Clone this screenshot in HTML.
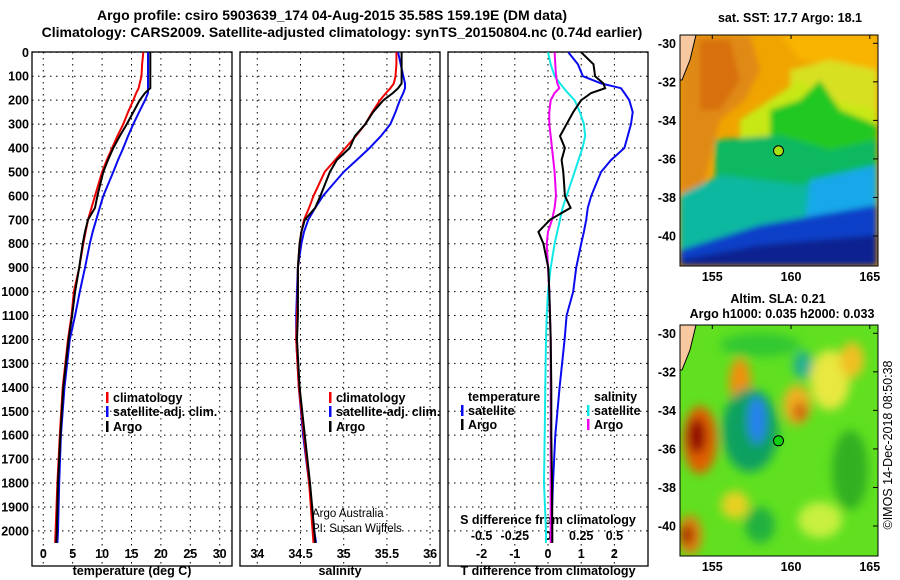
<!DOCTYPE html>
<html><head><meta charset="utf-8"><style>
body{margin:0;background:#fff}
svg{display:block;font-family:"Liberation Sans",sans-serif}
.t{font-weight:bold;font-size:12.5px}
.h{font-weight:bold;font-size:14px}
</style></head><body>
<svg id="s" width="900" height="580" viewBox="0 0 900 580">
<defs>
<filter id="bl" x="-30%" y="-30%" width="160%" height="160%"><feGaussianBlur stdDeviation="5"/></filter>
<filter id="bl2" x="-20%" y="-20%" width="140%" height="140%"><feGaussianBlur stdDeviation="3"/></filter>
<clipPath id="c1"><rect x="680" y="35" width="198" height="231"/></clipPath>
<clipPath id="c2"><rect x="680" y="325" width="198" height="231"/></clipPath>
</defs>
<text class="h" x="332" y="20" text-anchor="middle">Argo profile: csiro 5903639_174 04-Aug-2015 35.58S 159.19E (DM data)</text>
<text class="h" x="342" y="37" text-anchor="middle">Climatology: CARS2009. Satellite-adjusted climatology: synTS_20150804.nc (0.74d earlier)</text>
<g id="p"></g>
<!-- SST map -->
<g clip-path="url(#c1)">
<rect x="680" y="35" width="198" height="231" fill="#f0a400"/>
<g filter="url(#bl2)">
<polygon points="680,35 750,35 760,70 745,100 720,120 700,200 680,200" fill="#e08a18"/>
<polygon points="700,40 730,40 740,80 720,110 700,110" fill="#d87010"/>
<polygon points="780,35 877,35 877,70 800,60" fill="#f8b400"/>
<polygon points="790,70 830,60 877,70 877,120 820,120 790,100" fill="#d8e020"/>
<polygon points="740,120 770,100 800,80 830,100 877,110 877,130 800,140 740,140" fill="#c8e818"/>
<polygon points="770,110 800,100 820,80 840,110 877,125 877,160 790,175 770,140" fill="#20c820"/>
<polygon points="715,140 780,135 830,150 877,140 877,175 800,200 715,200" fill="#10b860"/>
<polygon points="680,195 720,175 800,185 877,170 877,266 680,266" fill="#10b8a0"/>
<polygon points="810,180 877,165 877,266 800,266" fill="#18a8e8"/>
<polygon points="760,225 877,205 877,266 680,266 680,250" fill="#1040c8"/>
<polygon points="760,245 877,235 877,266 680,266 680,260" fill="#082090"/>
</g>
<polygon points="680,35 696,35 690,60 682,80 680,80" fill="#f8c8a0" stroke="#000" stroke-width="1"/>
</g>
<rect x="680" y="35" width="198" height="231" fill="none" stroke="#000"/>
<circle cx="778.5" cy="150.8" r="5" fill="#a8e010" stroke="#000"/>
<!-- SLA map -->
<g clip-path="url(#c2)">
<rect x="680" y="325" width="198" height="231" fill="#60e020"/>
<g filter="url(#bl)">
<ellipse cx="760" cy="345" rx="40" ry="12" fill="#30c830"/>
<ellipse cx="740" cy="382" rx="11" ry="24" fill="#f09010"/>
<ellipse cx="700" cy="440" rx="17" ry="34" fill="#e06000"/>
<ellipse cx="697" cy="436" rx="9" ry="18" fill="#900000"/>
<ellipse cx="750" cy="430" rx="28" ry="42" fill="#10a060"/>
<ellipse cx="757" cy="420" rx="9" ry="24" fill="#2880f0"/>
<ellipse cx="797" cy="405" rx="14" ry="20" fill="#f0b020"/>
<ellipse cx="800" cy="412" rx="7" ry="10" fill="#d06010"/>
<ellipse cx="803" cy="365" rx="10" ry="14" fill="#20b090"/>
<ellipse cx="830" cy="380" rx="20" ry="30" fill="#e8e840"/>
<ellipse cx="852" cy="360" rx="12" ry="18" fill="#f0c020"/>
<ellipse cx="690" cy="535" rx="12" ry="20" fill="#e08010"/>
<ellipse cx="687" cy="535" rx="6" ry="10" fill="#a01000"/>
<ellipse cx="735" cy="505" rx="14" ry="14" fill="#e8d020"/>
<ellipse cx="850" cy="470" rx="18" ry="40" fill="#30b020"/>
<ellipse cx="820" cy="520" rx="22" ry="18" fill="#c8f040"/>
<ellipse cx="760" cy="525" rx="15" ry="18" fill="#20b040"/>
</g>
<polygon points="680,325 696,325 690,350 682,370 680,370" fill="#f8c8a0" stroke="#000" stroke-width="1"/>
</g>
<rect x="680" y="325" width="198" height="231" fill="none" stroke="#000"/>
<circle cx="778.5" cy="440.8" r="5" fill="#10d010" stroke="#000"/>
<text class="t" x="790" y="22" text-anchor="middle">sat. SST: 17.7 Argo: 18.1</text>
<text class="t" x="778" y="303" text-anchor="middle">Altim. SLA: 0.21</text>
<text class="t" x="782" y="318" text-anchor="middle">Argo h1000: 0.035 h2000: 0.033</text>
<text x="892" y="445" font-size="12.5" text-anchor="middle" transform="rotate(-90 892 445)">©IMOS 14-Dec-2018 08:50:38</text>
<text x="312" y="517" font-size="11.5">Argo Australia</text>
<text x="312" y="532" font-size="11.5">PI: Susan Wijffels</text>
</svg>
<script>
const depth=[0,50,100,130,150,170,200,250,300,350,400,450,500,600,650,700,750,800,900,1000,1100,1200,1400,1600,1800,2000,2050];
const tempArgo=[18.2,18.2,18.2,18.2,18.2,17.3,16.4,15.3,14.2,13.0,11.9,11.0,10.2,9.2,8.8,7.6,7.1,6.7,6.1,5.4,4.9,4.3,3.4,2.9,2.5,2.3,2.2];
const tempClim=[17.0,16.8,16.7,16.4,16.2,15.8,15.3,14.4,13.6,12.6,11.7,10.8,10.0,8.8,8.2,7.6,7.2,6.8,6.1,5.2,4.8,4.2,3.3,2.8,2.4,2.1,2.0];
const tempSat=[17.8,17.8,17.8,17.8,17.8,17.8,17.3,16.3,15.3,14.4,13.6,12.7,11.9,10.2,9.6,9.0,8.4,7.9,7.1,6.2,5.4,4.5,3.6,3.0,2.7,2.5,2.4];
const salArgo=[35.67,35.67,35.67,35.67,35.63,35.57,35.46,35.34,35.25,35.13,35.07,34.92,34.84,34.73,34.67,34.55,34.51,34.49,34.47,34.47,34.47,34.46,34.49,34.55,34.61,34.66,34.67];
const salClim=[35.61,35.61,35.60,35.58,35.54,35.49,35.42,35.33,35.25,35.14,35.02,34.90,34.78,34.65,34.60,34.54,34.51,34.49,34.47,34.47,34.46,34.45,34.48,34.54,34.60,34.64,34.65];
const salSat=[35.63,35.66,35.69,35.71,35.71,35.69,35.65,35.60,35.54,35.43,35.30,35.15,35.0,34.76,34.67,34.59,34.54,34.51,34.47,34.46,34.45,34.45,34.48,34.53,34.60,34.66,34.68];
const tDiffArgo=[1.0,1.37,1.42,1.67,1.72,1.3,1.0,0.76,0.56,0.36,0.51,0.41,0.46,0.51,0.68,0.06,-0.29,-0.14,0.01,0.04,0.06,0.08,0.1,0.1,0.12,0.13,0.13];
const tDiffSat=[0.61,0.9,1.05,1.6,2.2,2.3,2.45,2.55,2.5,2.4,2.3,1.9,1.6,1.3,1.2,1.15,1.08,1.0,0.85,0.76,0.56,0.5,0.35,0.22,0.15,0.1,0.1];
const sDiffArgo=[0.05,0.055,0.06,0.07,0.085,0.05,0.02,0.01,0.01,0.02,0.03,0.04,0.05,0.06,0.05,0.03,0,-0.01,0,0.01,0.015,0.02,0.02,0.02,0.02,0.02,0.02];
const sDiffSat=[0,0.02,0.05,0.09,0.12,0.15,0.2,0.24,0.27,0.28,0.26,0.23,0.2,0.14,0.11,0.09,0.07,0.05,0.02,0,-0.01,-0.015,-0.02,-0.025,-0.03,-0.015,-0.015];
const depthTicks=[0,100,200,300,400,500,600,700,800,900,1000,1100,1200,1300,1400,1500,1600,1700,1800,1900,2000];
const tempTicks=[0,5,10,15,20,25,30];
const salTicks=[34,34.5,35,35.5,36];
const tdTicks=[-2,-1,0,1,2];
const sdTicks=[-0.5,-0.25,0,0.25,0.5];
const sdTickLabels=["-0.5","-0.25","0","0.25","0.5"];
const NS="http://www.w3.org/2000/svg";
const g=document.getElementById('p');
const Y0=52.3,YTOP=52,YBOT=566;
const yD=d=>Y0+d*0.2393;
const xT=v=>43.3+v*5.88;
const xS=v=>257.3+(v-34)*86.4;
const xTD=v=>548+v*33.2;
const xSD=v=>548+v*132.8;
function el(tag,attrs,parent){const e=document.createElementNS(NS,tag);for(const k in attrs)e.setAttribute(k,attrs[k]);(parent||g).appendChild(e);return e;}
const panels=[[32,232,tempTicks,xT],[240,440,salTicks,xS],[448,648,tdTicks,xTD]];
panels.forEach(([x0,x1,ticks,fx],i)=>{
  depthTicks.forEach(d=>{const y=yD(d);const l=el('line',{x1:x0,x2:x1,y1:y,y2:y,stroke:'#000','stroke-dasharray':'1.5,4.5','stroke-width':1});
  
  });
  ticks.forEach(v=>{const x=fx(v);const l=el('line',{x1:x,x2:x,y1:YTOP,y2:YBOT,stroke:'#000','stroke-dasharray':'1.5,4.5','stroke-width':1});
  
  
  const t=el('text',{x:x,y:558,'text-anchor':'middle','class':'t'});t.textContent=String(v);
  
  });
  const r=el('rect',{x:x0,y:YTOP,width:x1-x0,height:YBOT-YTOP,fill:'none',stroke:'#000','stroke-width':1.3});
  
  
});
depthTicks.forEach(d=>{const t=el('text',{x:29,y:yD(d)+4.5,'text-anchor':'end','class':'t'});t.textContent=d;

});
sdTicks.forEach((v,k)=>{const t=el('text',{x:xSD(v),y:540,'text-anchor':'middle','class':'t'});t.textContent=sdTickLabels[k];

});
[['temperature (deg C)',132],['salinity',340],['T difference from climatology',548]].forEach(([s,x])=>{const t=el('text',{x:x,y:575,'text-anchor':'middle','class':'t'});t.textContent=s;

});
const st=el('text',{x:548,y:524,'text-anchor':'middle','class':'t'});st.textContent='S difference from climatology';


function line(vals,fx,col,name){const pts=vals.map((v,k)=>fx(v).toFixed(1)+','+yD(depth[k]).toFixed(1)).join(' ');
const p=el('polyline',{points:pts,fill:'none',stroke:col,'stroke-width':2});

}
line(tempSat,xT,'#0a0af0','temp-satellite-line');
line(tempClim,xT,'#f00000','temp-climatology-line');
line(tempArgo,xT,'#000','temp-argo-line');
line(salSat,xS,'#0a0af0','sal-satellite-line');
line(salClim,xS,'#f00000','sal-climatology-line');
line(salArgo,xS,'#000','sal-argo-line');
line(tDiffSat,xTD,'#0a0af0','tdiff-satellite-line');
line(sDiffSat,xSD,'#10e8e8','sdiff-satellite-line');
line(sDiffArgo,xSD,'#f000f0','sdiff-argo-line');
line(tDiffArgo,xTD,'#000','tdiff-argo-line');
function leg(x,y,col,txt){
 if(col){const b=el('rect',{x:x-7,y:y-10,width:2.5,height:11,fill:col});}
 const bg=el('text',{x:x,y:y,'class':'t'});bg.textContent=txt;
 
 }
leg(113,402,'#f00000','climatology');leg(113,416,'#0a0af0','satellite-adj. clim.');leg(113,431,'#000','Argo');
leg(336,402,'#f00000','climatology');leg(336,416,'#0a0af0','satellite-adj. clim.');leg(336,431,'#000','Argo');
leg(468,401,null,'temperature');leg(468,415,'#0a0af0','satellite');leg(468,429,'#000','Argo');
leg(594,401,null,'salinity');leg(594,415,'#10e8e8','satellite');leg(594,429,'#f000f0','Argo');
const s=document.getElementById('s');
function mt(x,y,txt,anchor){const t=el('text',{x:x,y:y,'class':'t','text-anchor':anchor},s);t.textContent=txt;

}
const lats=[-30,-32,-34,-36,-38,-40];const lons=[155,160,165];
[[35,43.3,270],[325,333.3,560]].forEach(([top,ly0,lby])=>{
 lats.forEach(la=>{const y=ly0+(-30-la)*19.27;mt(676,y+4.5,String(la),'end');
  el('line',{x1:878,x2:873,y1:y,y2:y,stroke:'#000'},s);});
 lons.forEach(lo=>{const x=712.3+(lo-155)*15.75;mt(x,lby+11,String(lo),'middle');
  el('line',{x1:x,x2:x,y1:top,y2:top+4,stroke:'#000'},s);});
});
</script>
</body></html>
